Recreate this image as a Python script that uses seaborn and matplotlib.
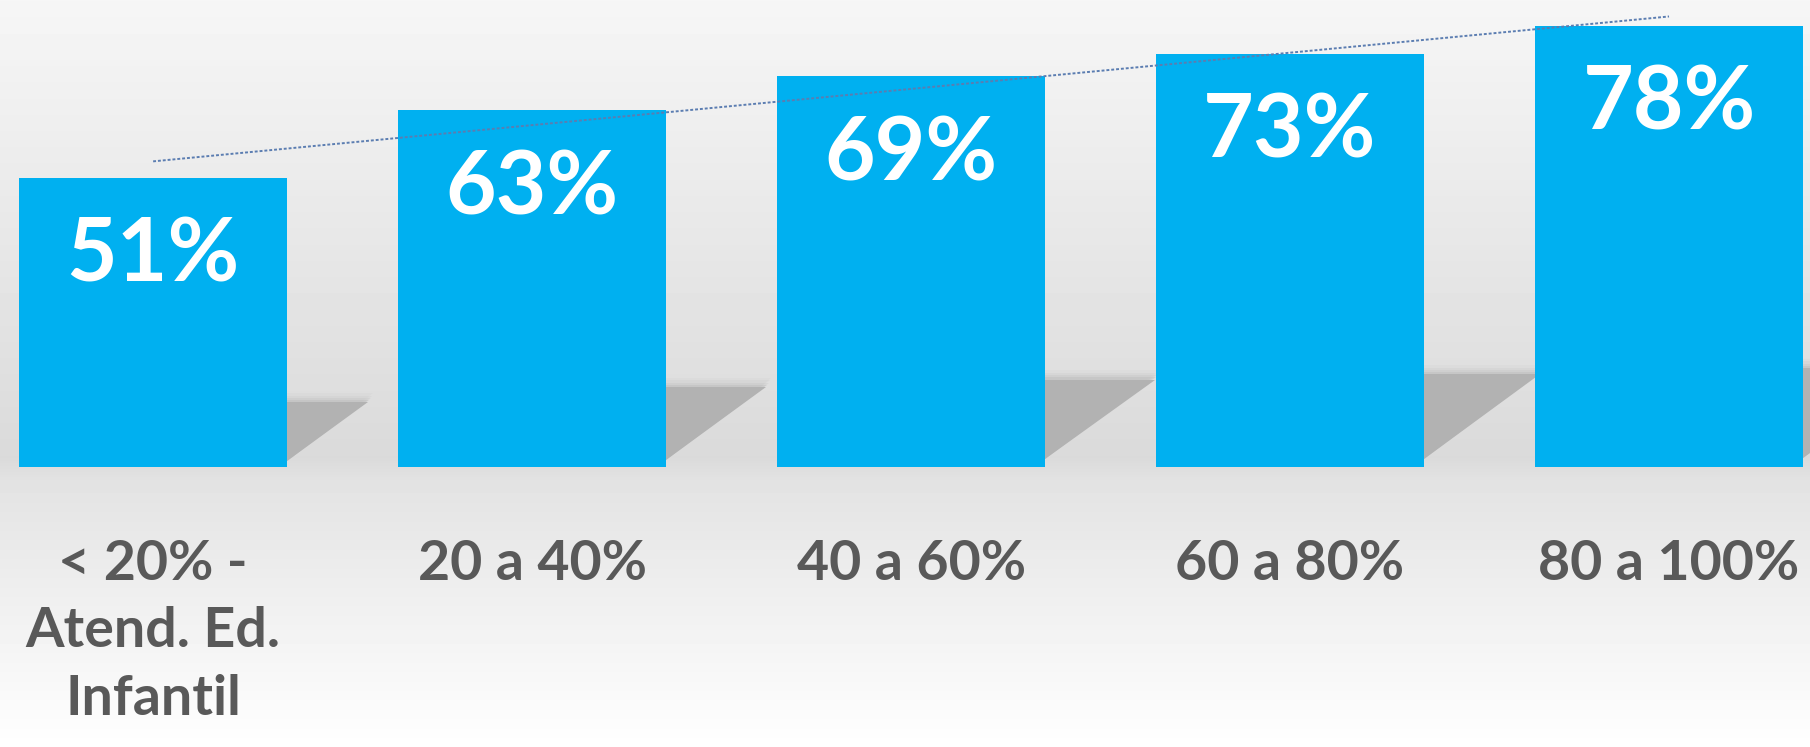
import numpy as np
import pandas as pd
import matplotlib
matplotlib.use('Agg')
import matplotlib.pyplot as plt
from matplotlib.patches import Polygon
import seaborn as sns

# Data
categories = ['< 20% -\nAtend. Ed.\nInfantil', '20 a 40%', '40 a 60%', '60 a 80%', '80 a 100%']
values = [51, 63, 69, 73, 78]
value_labels = ['51%', '63%', '69%', '73%', '78%']

sns.set_theme(style='white')
plt.rcParams['font.family'] = ['Lato', 'DejaVu Sans']

df = pd.DataFrame({'faixa': categories, 'pct': values})

W, H = 1810, 747
floor = 467  # pixel row of the bar bottoms
fig = plt.figure(figsize=(W / 100, H / 100), dpi=100)

# grey "floor" gradient behind everything
bg = fig.add_axes([0, 0, 1, 1], zorder=0)
rows = np.arange(H)
shade = np.interp(rows, [0, floor - 10, floor + 15, H], [0.965, 0.855, 0.89, 1.0])
bg.imshow(shade[:, None], cmap='gray', vmin=0, vmax=1, aspect='auto', extent=[0, 1, 0, 1])
bg.axis('off')

ax = fig.add_axes([0, (H - floor) / H, 1, floor / H], zorder=1)
ax.patch.set_alpha(0)

bar_w = 0.707
sns.barplot(data=df, x='faixa', y='pct', color='#00b0f0', saturation=1, width=bar_w,
            linewidth=0, edgecolor='none', ax=ax, zorder=3)

# soft shadows to the right of each bar
for i, v in enumerate(values):
    r = i + bar_w / 2
    hs = 0.224 * v
    ws = 0.0042 * v
    for k, a in [(4, 0.08), (3, 0.12), (2, 0.18), (1, 0.3), (0, 1.0)]:
        pts = [(r, 0.02 * v), (r, hs + k * 0.4), (r + ws + k * 0.003, hs + k * 0.4)]
        ax.add_patch(Polygon(pts, closed=True, facecolor='#b2b2b2', edgecolor='none',
                             alpha=a, zorder=2))

# linear trend line
x = np.arange(len(values))
coef = np.polyfit(x, values, 1)
ax.plot(x, np.polyval(coef, x), color='#5b7db1', lw=1.4, ls=(0, (1.5, 1)), zorder=4)

for i, (v, lbl) in enumerate(zip(values, value_labels)):
    ax.text(i, v - 13.8, lbl, ha='center', va='center', color='white',
            fontsize=63, fontweight='bold', zorder=5)

ax.set_xlim(-0.404, 4.372)
ax.set_ylim(0, floor / 5.66)
ax.set_xticks(range(len(categories)))
ax.set_xticklabels(categories, fontsize=40, fontweight='bold', color='#595959',
                   linespacing=1.42)
ax.tick_params(axis='x', length=0, pad=52)
ax.set_yticks([])
ax.set_xlabel('')
ax.set_ylabel('')
sns.despine(ax=ax, left=True, bottom=True)

fig.savefig('out.png', dpi=100)
